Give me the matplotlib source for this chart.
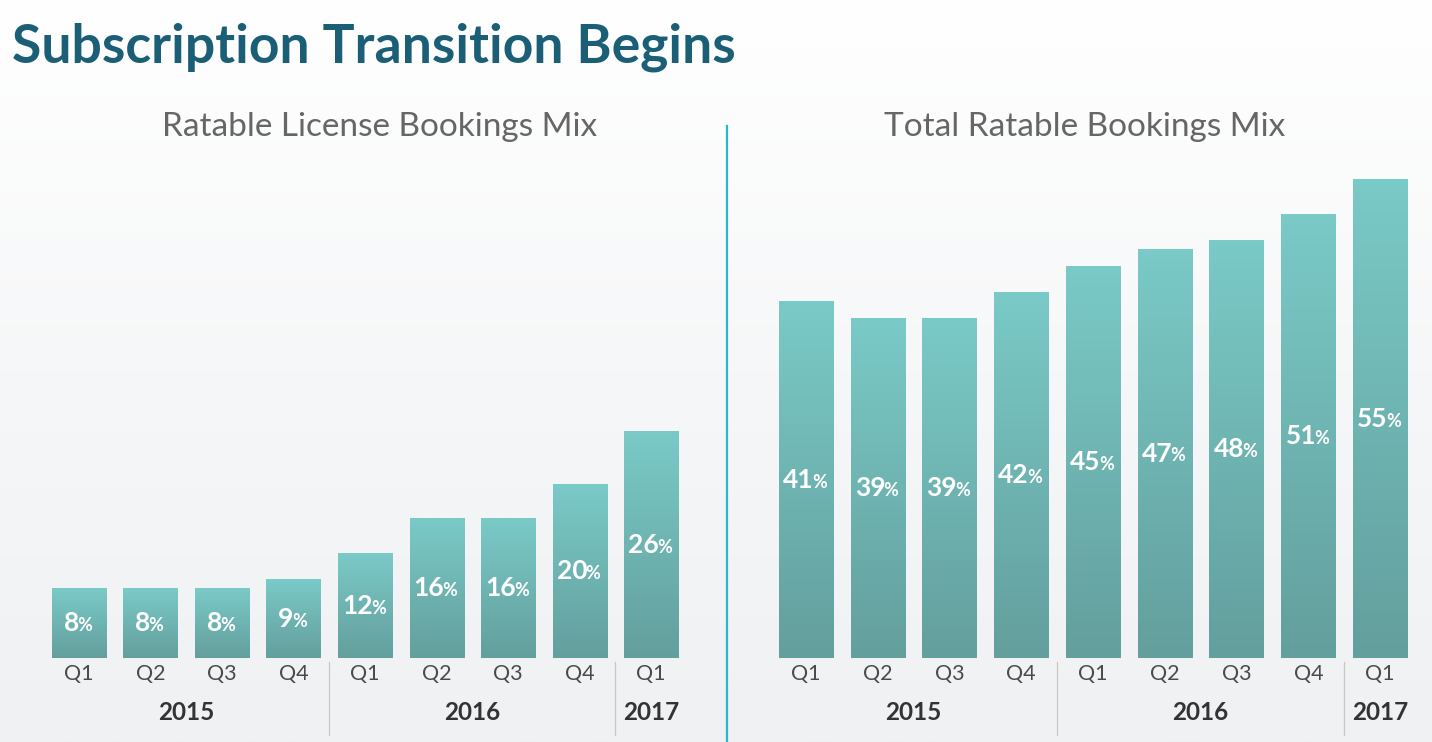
import numpy as np
import matplotlib.pyplot as plt
from matplotlib.colors import LinearSegmentedColormap
from matplotlib.transforms import blended_transform_factory, offset_copy

# dados
quarters = ["Q1", "Q2", "Q3", "Q4", "Q1", "Q2", "Q3", "Q4", "Q1"]
years = ["2015", "2016", "2017"]
year_span = [(0, 3), (4, 7), (8, 8)]  # primeiro e último trimestre de cada ano
license_mix = [8, 8, 8, 9, 12, 16, 16, 20, 26]
total_mix = [41, 39, 39, 42, 45, 47, 48, 51, 55]
titulos = ["Ratable License Bookings Mix", "Total Ratable Bookings Mix"]

W, H = 1432, 742
fig = plt.figure(figsize=(W / 100, H / 100), dpi=100)

# fundo com gradiente suave
bg = fig.add_axes([0, 0, 1, 1], zorder=-10)
grad = np.linspace(0, 1, 256).reshape(-1, 1)
bg_cmap = LinearSegmentedColormap.from_list("bg", ["#ffffff", "#f6f7f8", "#eff1f3"])
bg.imshow(grad, aspect="auto", cmap=bg_cmap, extent=[0, 1, 0, 1], origin="upper")
bg.set_axis_off()

bar_cmap = LinearSegmentedColormap.from_list("bar", ["#639f9d", "#7acac7"])

def painel(left_px, width_px, valores, subtitulo, sub_x):
    bottom_px = 658
    px_per_unit = 8.7
    ymax = 60
    ax = fig.add_axes([left_px / W, (H - bottom_px) / H, width_px / W, ymax * px_per_unit / H])
    ax.set_xlim(-0.5, len(valores) - 0.5)
    ax.set_ylim(0, ymax)
    ax.patch.set_alpha(0)
    for s in ax.spines.values():
        s.set_visible(False)
    ax.set_yticks([])

    x = np.arange(len(valores))
    bars = ax.bar(x, valores, width=0.755, color="none", edgecolor="none")
    g = np.linspace(0, 1, 128).reshape(-1, 1)
    for b, v in zip(bars, valores):
        x0 = b.get_x()
        ax.imshow(g, aspect="auto", cmap=bar_cmap, origin="lower",
                  extent=[x0, x0 + b.get_width(), 0, b.get_height()], zorder=2)
        # rótulo com número grande e % pequeno
        t = ax.text(x0 + b.get_width() / 2, v / 2, str(v), color="white",
                    fontsize=19, fontweight="bold", family="Lato",
                    ha="center", va="center", zorder=3,
                    transform=offset_copy(ax.transData, fig=fig, x=-5.5, units="points"))
        ax.annotate("%", xy=(1, 0.17), xycoords=t, xytext=(-1.2, 0), textcoords="offset points",
                    color="white", fontsize=13, fontweight="bold", family="Lato",
                    ha="left", va="baseline", zorder=3)
    ax.set_xlim(-0.5, len(valores) - 0.5)
    ax.set_ylim(0, ymax)

    ax.set_xticks(x)
    ax.set_xticklabels(quarters, fontsize=15.5, color="#4a4a4a", family="Lato")
    ax.tick_params(axis="x", length=0, pad=4)

    trans = blended_transform_factory(ax.transData, ax.transAxes)
    for (a, b_), ano in zip(year_span, years):
        ax.text((a + b_) / 2, -0.104, ano, transform=trans, ha="center", va="center",
                fontsize=17.5, fontweight="bold", color="#333333", family="Lato")
    for sep in [3.5, 7.5]:
        ax.plot([sep, sep], [-0.008, -0.1475], transform=trans, color="#c8c8c8",
                lw=0.9, clip_on=False)

    fig.text(sub_x / W, (H - 127) / H, subtitulo, ha="center", va="center",
             fontsize=24, color="#666666", family="Lato")
    return ax

painel(43, 644, license_mix, titulos[0], 380)
painel(770, 646, total_mix, titulos[1], 1085)

# divisória vertical
fig.add_artist(plt.Line2D([727 / W, 727 / W], [0, (H - 126) / H], color="#2bb6c9", lw=1.6))

fig.text(12 / W, (H - 62) / H, "Subscription Transition Begins", ha="left", va="baseline",
         fontsize=38.5, fontweight="bold", color="#1b5f76", family="Lato")

fig.savefig("out.png", dpi=100)
